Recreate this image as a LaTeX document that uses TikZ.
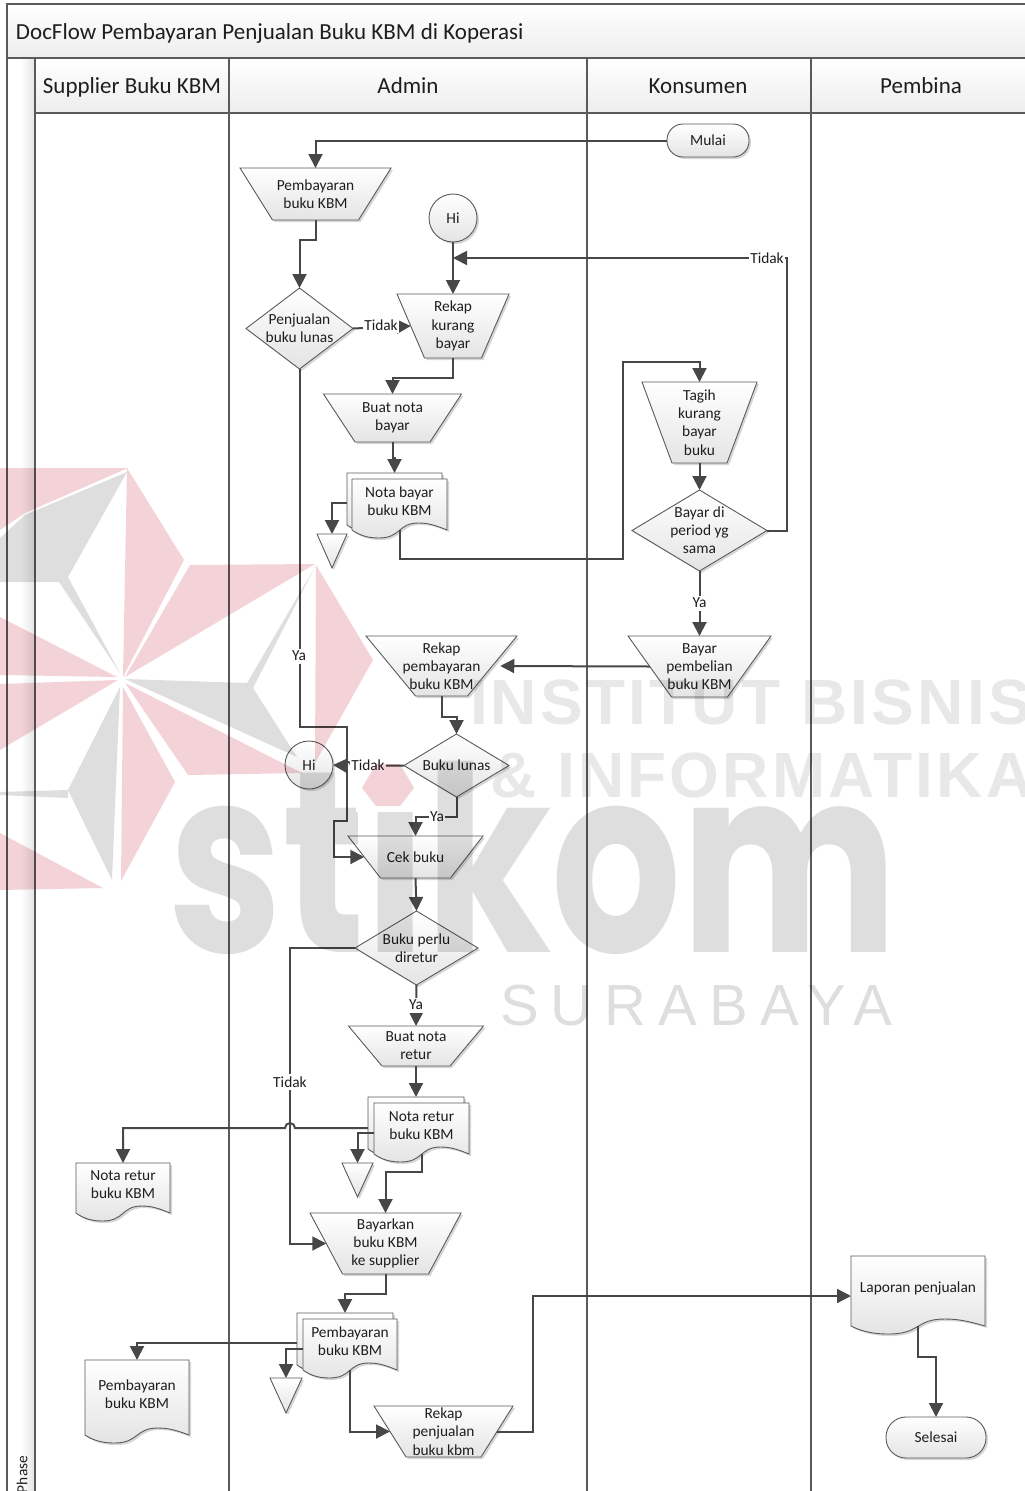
\documentclass[tikz,border=0pt]{standalone}
\usepackage{fontspec}
\usepackage{graphicx}
\setmainfont{Carlito}
\newfontfamily\wmpop{Poppins}
\newfontfamily\wmsans{Liberation Sans}
\usetikzlibrary{shapes.geometric,shadows,arrows.meta,calc}
\definecolor{linecol}{HTML}{474747}
\definecolor{edgecol}{HTML}{5A5A5A}
\definecolor{gradbot}{HTML}{E4E4E4}
\definecolor{bandbot}{HTML}{EDEDED}
\definecolor{wmpink}{HTML}{F3D3D7}
\definecolor{wmgrey}{HTML}{DEDEDE}
\definecolor{wmlight}{HTML}{E8E8E8}
\definecolor{txtcol}{HTML}{1E1E1E}
\tikzset{
  x=1pt,y=-1pt,
  every node/.style={text=txtcol,font=\fontsize{15.4}{18.2}\selectfont,align=center,inner sep=0pt,outer sep=0pt},
  softshadow/.style={drop shadow={shadow xshift=2pt,shadow yshift=-2pt,fill=black,opacity=.16}},
  symbol/.style={draw=edgecol,line width=.9pt,top color=white,bottom color=gradbot,softshadow},
  flow/.style={draw=linecol,line width=2pt,line join=miter,-{Triangle[length=14pt,width=14pt]}},
  lane/.style={draw=edgecol,line width=1.6pt},
  lbl/.style={fill=white,inner xsep=1pt,inner ysep=2.5pt},
  anchorbox/.style={draw=none,rectangle},
  head/.style={font=\fontsize{23}{27}\selectfont,anchor=base},
}
% name, cx, top, bottom, half top width, half bottom width, text
\newcommand{\manop}[7]{%
  \path[symbol] ({#2-#5},#3) -- ({#2+#5},#3) -- ({#2+#6},#4) -- ({#2-#6},#4) -- cycle;
  \pgfmathsetmacro{\tzw}{#5+#6}\pgfmathsetmacro{\tzh}{#4-#3}%
  \node[anchorbox,minimum width=\tzw pt,minimum height=\tzh pt,
    label={center:{#7}}] (#1) at (#2,{(#3+#4)/2}) {};}
% name, cx, cy, half width, half height, text
\newcommand{\decision}[6]{%
  \path[symbol] ({#2-#4},#3) -- (#2,{#3-#5}) -- ({#2+#4},#3) -- (#2,{#3+#5}) -- cycle;
  \pgfmathsetmacro{\dmw}{2*#4}\pgfmathsetmacro{\dmh}{2*#5}%
  \node[anchorbox,minimum width=\dmw pt,minimum height=\dmh pt,
    label={center:{#6}}] (#1) at (#2,#3) {};}
% name, x0, top, x1, bottom (wave baseline), text
\newcommand{\docum}[6]{%
  \pgfmathsetmacro{\dcw}{#4-#2}\pgfmathsetmacro{\dch}{#5-#3}%
  \path[symbol] (#2,#3) -- (#4,#3) -- (#4,#5)
    .. controls ({#4-.13*\dcw},{#5-5}) and ({#4-.2*\dcw},{#5-7}) .. ({#4-.3*\dcw},{#5-7})
    .. controls ({#4-.52*\dcw},{#5-7}) and ({#2+.52*\dcw},{#5+8}) .. ({#2+.28*\dcw},{#5+8})
    .. controls ({#2+.14*\dcw},{#5+8}) and ({#2+.06*\dcw},{#5+4}) .. (#2,#5) -- cycle;
  \node[anchorbox,minimum width=\dcw pt,minimum height=\dch pt,
    label={[yshift=3pt]center:{#6}}] (#1) at ({(#2+#4)/2},{(#3+#5)/2}) {};}
% name, cx, top, half width, apex y
\newcommand{\offpage}[5]{%
  \path[symbol] ({#2-#4},#3) -- ({#2+#4},#3) -- (#2,#5) -- cycle;
  \pgfmathsetmacro{\opw}{#4}\pgfmathsetmacro{\oph}{#5-#3}%
  \node[anchorbox,minimum width=\opw pt,minimum height=\oph pt] (#1) at (#2,{(#3+#5)/2}) {};}
\begin{document}
\begin{tikzpicture}
\useasboundingbox (0,0) rectangle (1025,1491);
% --- pool frame
\shade[top color=white,bottom color=bandbot] (7,4) rectangle (1030,58);
\shade[left color=white,right color=gradbot,middle color=white] (7,58) rectangle (35,1495);
\shade[top color=white,bottom color=bandbot] (35,58) rectangle (1030,113);
\draw[lane] (1030,4) -- (7,4) -- (7,1495);
\draw[lane] (7,58) -- (1030,58);
\draw[lane] (35,113) -- (1030,113);
\draw[lane] (35,58) -- (35,1495);
\draw[lane] (229,58) -- (229,1495);
\draw[lane] (587,58) -- (587,1495);
\draw[lane] (811,58) -- (811,1495);
\node[head,anchor=base west] (title) at (16,39) {DocFlow Pembayaran Penjualan Buku KBM di Koperasi};
\node[head] (lanea) at (132,93.3) {Supplier Buku KBM};
\node[head] (laneb) at (408,93.3) {Admin};
\node[head] (lanec) at (698,93.3) {Konsumen};
\node[head] (laned) at (921,93.3) {Pembina};
\node[rotate=90,anchor=west] (phase) at (22,1493) {Phase};
% --- symbols
\node[symbol,rectangle,rounded corners=16pt,minimum width=82pt,minimum height=33pt] (mulai) at (708,140.5) {Mulai};
\manop{pb}{315.5}{168}{220}{75.5}{43}{Pembayaran\\buku KBM}
\node[symbol,circle,minimum size=48pt] (hia) at (453,218) {Hi};
\decision{pj}{299.5}{328.5}{53.5}{40.5}{Penjualan\\buku lunas}
\manop{rk}{453}{294}{358}{56}{28.5}{Rekap\\kurang\\bayar}
\manop{bn}{392.5}{394}{442}{69}{37.5}{Buat nota\\bayar}
\docum{nbb}{347}{473}{442}{525}{}
\docum{nb}{352}{479}{447}{530}{Nota bayar\\buku KBM}
\offpage{ta}{332}{534}{15}{568}
\manop{tg}{699.5}{382}{463}{57.5}{27.5}{Tagih\\kurang\\bayar\\buku}
\decision{bd}{699.5}{530.5}{67.5}{40.5}{Bayar di\\period yg\\sama}
\manop{bp}{699.5}{636}{697}{71.5}{28}{Bayar\\pembelian\\buku KBM}
\manop{rp}{441.5}{636}{696}{75.5}{26}{Rekap\\pembayaran\\buku KBM}
\decision{bl}{456.5}{765.5}{52.5}{31.5}{Buku lunas}
\node[symbol,circle,minimum size=48pt] (hib) at (309,765) {Hi};
\manop{cb}{415.5}{836}{878}{67.5}{35}{Cek buku}
\decision{br}{416.5}{948}{61.5}{37}{Buku perlu\\diretur}
\manop{bt}{416}{1026}{1066}{67.5}{34}{Buat nota\\retur}
\docum{nrb}{368}{1097}{464}{1149}{}
\docum{nr}{374}{1103}{469}{1154}{Nota retur\\buku KBM}
\offpage{tb}{357.5}{1163}{15.5}{1197}
\docum{nrs}{76}{1163}{170}{1213}{Nota retur\\buku KBM}
\manop{by}{385.5}{1213}{1274}{75.5}{43}{Bayarkan\\buku KBM\\ke supplier}
\docum{pyb}{297}{1313}{393}{1365}{}
\docum{py}{303}{1319}{397}{1370}{Pembayaran\\buku KBM}
\offpage{tc}{286}{1378}{16}{1413}
\docum{pys}{85}{1360}{189}{1435}{Pembayaran\\buku KBM}
\manop{rj}{443.5}{1406}{1457}{69.5}{37.5}{Rekap\\penjualan\\buku kbm}
\docum{lp}{851}{1256}{985}{1326}{Laporan penjualan}
\node[symbol,rectangle,rounded corners=20pt,minimum width=100pt,minimum height=41pt] (sl) at (936,1437.5) {Selesai};
\coordinate (tidakturn) at (453,258);
% --- connectors
\draw[flow] (mulai.west) -| (pb.north);
\draw[flow] (pb.south) -- ++(0,20) -| (pj.north);
\draw[flow] (hia.south) -- (rk.north);
\draw[flow] (bd.east) -- ++(20,0) |- (tidakturn);
\draw[flow] (pj.east) -- (rk.west);
\draw[flow] (rk.south) -- ++(0,20) -| (bn.north);
\draw[flow] (bn.south) -- ++(0,16) -| (nbb.north);
\draw[flow] (nb.south) -- ++(0,29) -- ++(223,0) |- ($(tg.north)+(0,-20)$) -- (tg.north);
\draw[flow] ([yshift=-4pt]nbb.west) -| (ta.north);
\draw[flow] (tg.south) -- (bd.north);
\draw[flow] (bd.south) -- (bp.north);
\draw[flow] (bp.west) -- ([xshift=8pt]rp.east);
\draw[flow] (rp.south) -- ++(0,21) -| (bl.north);
\draw[flow] (bl.west) -- (351,765.5) arc[start angle=0,end angle=180,radius=4pt] -- (hib.east);
\draw[flow] (bl.south) -- ++(0,20) -| (cb.north);
\draw[flow] (pj.south) -- ++(0,358) -- ++(47,0) -- ++(0,94) -- ++(-13,0) |- (cb.west);
\draw[flow] (cb.south) -- (br.north);
\draw[flow] (br.south) -- (bt.north);
\draw[flow] (br.west) -- ++(-65,0) |- (by.west);
\draw[flow] (bt.south) -- ++(0,15) -| (nrb.north);
\draw[flow] ([yshift=-5pt]nrb.west) -- (295,1128) arc[start angle=0,end angle=180,radius=5pt] -| (nrs.north);
\draw[flow] ([yshift=-4pt]nr.west) -| (tb.north);
\draw[flow] (nr.south) -- ++(0,18) -| (by.north);
\draw[flow] (by.south) -- ++(0,20) -| (pyb.north);
\draw[flow] ([yshift=-4pt]pyb.west) -| (pys.north);
\draw[flow] ([yshift=-4pt]py.west) -| (tc.north);
\draw[flow] (py.south) |- (rj.west);
\draw[flow] (rj.east) -- ++(36,0) |- ([yshift=-5pt]lp.west);
\draw[flow] (lp.south) -- ++(0,31) -| (sl.north);
% --- connector labels
\node[lbl] (l1) at (767,258) {Tidak};
\node[lbl] (l2) at (381,325.5) {Tidak};
\node[lbl] (l3) at (299,656) {Ya};
\node[lbl] (l4) at (699.5,603) {Ya};
\node[lbl] (l5) at (368,765.5) {Tidak};
\node[lbl] (l6) at (437,817) {Ya};
\node[lbl] (l7) at (416,1005) {Ya};
\node[lbl] (l8) at (290,1082) {Tidak};
% --- watermark, printed over the whole page
\begin{scope}[blend mode=multiply]
  \fill[wmgrey] (127,472) -- (68,577) -- (120,673) -- (59,582) -- (0,582) -- (0,538) -- (25,515) -- cycle;
  \fill[wmgrey] (125,679) -- (247,683) -- (315,567) -- (253,688) -- (297,757) -- cycle;
  \fill[wmgrey] (120,687) -- (68,790) -- (112,880) -- cycle;
  \fill[wmgrey] (68,790) -- (0,792) -- (0,795) -- (68,798) -- cycle;
  \fill[wmpink] (0,468) -- (128,468) -- (25,513) -- (0,530) -- cycle;
  \fill[wmpink] (127,468) -- (184,560) -- (123,677) -- cycle;
  \fill[wmpink] (190,565) -- (315,564) -- (125,677) -- cycle;
  \fill[wmpink] (316,565) -- (373,660) -- (315,763) -- cycle;
  \fill[wmpink] (125,683) -- (302,773) -- (188,775) -- cycle;
  \fill[wmpink] (123,687) -- (175,782) -- (121,881) -- cycle;
  \fill[wmpink] (118,680) -- (0,684) -- (0,750) -- cycle;
  \fill[wmpink] (117,677) -- (0,617) -- (0,675) -- cycle;
  \fill[wmpink] (0,833) -- (103,888) -- (0,890) -- cycle;
  \begin{scope}
    \clip (0,0) -- (1025,0) -- (1025,1491) -- (0,1491) -- (0,0) -- (355,740) -- (355,812) -- (420,812) -- (420,740) -- (355,740) -- cycle;
    \node[anchor=south west,text=wmgrey] (wmstik) at (168,955) {\resizebox{730pt}{207pt}{\wmpop\bfseries stikom}};
  \end{scope}
  \fill[wmpink] (362,788) -- (376,764) -- (400,764) -- (414,788) -- (400,806) -- (376,806) -- cycle;
  \node[anchor=base west,text=wmlight,font=\fontsize{64}{64}\selectfont] (wmone) at (470,724) {\wmsans\bfseries\addfontfeature{LetterSpace=5}INSTITUT BISNIS};
  \node[anchor=base west,text=wmlight,font=\fontsize{64}{64}\selectfont] (wmtwo) at (490,797) {\wmsans\bfseries\addfontfeature{LetterSpace=5}\& INFORMATIKA};
  \node[anchor=base west,text=wmgrey,font=\fontsize{58}{58}\selectfont] (wmthree) at (500,1025) {\wmsans\addfontfeature{LetterSpace=21}SURABAYA};
\end{scope}
\end{tikzpicture}
\end{document}
